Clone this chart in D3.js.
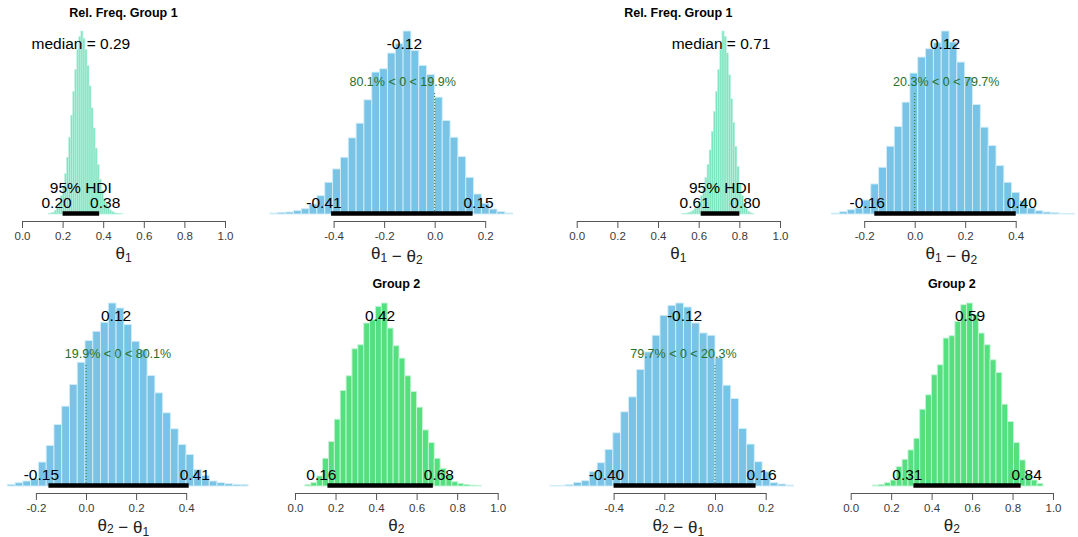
<!DOCTYPE html>
<html>
<head>
<meta charset="utf-8">
<script src="https://cdn.jsdelivr.net/npm/d3@7"></script>
<style>
body { margin: 0; background: #fff; }
text { font-family: "Liberation Sans", Arial, sans-serif; }
</style>
</head>
<body>
<svg id="chart" width="1078" height="537"></svg>
<script>
// ---- data (panels in reading order: top row left->right, then bottom row) ----
const panelTitles = ["Rel. Freq. Group 1", "", "Rel. Freq. Group 1", "", "", "Group 2", "", "Group 2"];
const centerPrefix = ["median = ", "", "median = ", "", "", "", "", ""];
const centerValues = [0.29, -0.12, 0.71, 0.12, 0.12, 0.42, -0.12, 0.59];
const hdiLow = [0.20, -0.41, 0.61, -0.16, -0.15, 0.16, -0.40, 0.31];
const hdiHigh = [0.38, 0.15, 0.80, 0.40, 0.41, 0.68, 0.16, 0.84];
const hdiCaption = ["95% HDI", "", "95% HDI", "", "", "", "", ""];
const pctBelowZero = [null, 80.1, null, 20.3, 19.9, null, 79.7, null];
const pctAboveZero = [null, 19.9, null, 79.7, 80.1, null, 20.3, null];

const ticksUnit = [0, 0.2, 0.4, 0.6, 0.8, 1.0];
const ticksDiffA = [-0.4, -0.2, 0.0, 0.2];
const ticksDiffB = [-0.2, 0.0, 0.2, 0.4];
const xTicks = [ticksUnit, ticksDiffA, ticksUnit, ticksDiffB, ticksDiffB, ticksUnit, ticksDiffA, ticksUnit];

// axis titles as [symbol, subscript] pieces
const axisTitles = [
  [["θ", "1"]],
  [["θ", "1"], [" − θ", "2"]],
  [["θ", "1"]],
  [["θ", "1"], [" − θ", "2"]],
  [["θ", "2"], [" − θ", "1"]],
  [["θ", "2"]],
  [["θ", "2"], [" − θ", "1"]],
  [["θ", "2"]]
];

// histogram bins: first break and bin width, then relative frequencies
const binStart = [0.13, -0.652, 0.515, -0.329, -0.314, 0.049, -0.651, 0.109];
const binWidth = [0.01, 0.031, 0.0105, 0.031, 0.031, 0.029, 0.031, 0.029];

const freq1 = [0.4, 0.6, 1, 2, 3.5, 6, 10, 15, 22, 31, 42, 54, 67, 79, 90, 97, 100, 96, 90, 81, 70, 58, 47, 36, 27, 19, 13, 8.5, 5.5, 3.5, 2.2, 1.3, 0.8, 0.5, 0.3, 0.2, 0.1];
const freq2 = [3, 5, 6, 10, 16, 30, 55, 95, 135, 170, 228, 272, 342, 425, 435, 482, 510, 548, 490, 445, 418, 350, 280, 230, 172, 110, 60, 32, 15, 7, 3];
const freq3 = [0.2, 0.3, 0.5, 0.8, 1.2, 2, 3, 4.5, 7, 10, 14, 20, 27, 35, 45, 56, 67, 79, 90, 100, 97, 88, 76, 63, 50, 37, 26, 17, 10, 6, 3, 1.5, 0.7, 0.3];
const freq4 = [3, 7, 13, 18, 42, 90, 140, 203, 262, 335, 422, 470, 495, 513, 548, 515, 455, 410, 328, 260, 205, 145, 95, 65, 40, 18, 10, 6, 4, 2, 2];
const freq5 = [5, 10, 15, 22, 72, 122, 185, 240, 305, 372, 437, 465, 492, 550, 535, 485, 435, 410, 332, 280, 220, 172, 125, 95, 50, 32, 15, 10, 7, 5, 4];
const freq6 = [4, 10, 30, 83, 133, 200, 286, 330, 411, 423, 488, 498, 538, 548, 473, 420, 383, 330, 283, 236, 168, 130, 83, 53, 33, 13, 8, 5, 3, 2];
const freq7 = [2, 2, 4, 11, 16, 43, 70, 110, 160, 223, 268, 350, 403, 453, 513, 543, 550, 538, 490, 460, 453, 386, 303, 263, 173, 126, 73, 43, 10, 6, 3];
const freq8 = [3, 5, 10, 18, 58, 80, 108, 143, 230, 273, 333, 363, 443, 450, 493, 543, 548, 513, 458, 423, 378, 340, 245, 193, 130, 78, 38, 18, 8];
const freqs = [freq1, freq2, freq3, freq4, freq5, freq6, freq7, freq8];

// ---- layout ----
const green = "#55e07f";
const mint = "#7fe5c0";
const blue = "#79c4e6";
const fills = [mint, blue, mint, blue, blue, green, blue, green];
const borders = ["#b9f0e0", "#d2eef8", "#b9f0e0", "#d2eef8", "#d2eef8", "#c4f3d6", "#d2eef8", "#c4f3d6"];
// pixel positions of the first and last tick of each panel's axis
const tickPixels = [[22, 225], [333.6, 485.2], [576.7, 780], [864.2, 1015.7],
                    [35.9, 186.2], [295, 497.7], [613.6, 765.7], [850.7, 1053]];
// centre of each plot region in data units (titles and axis titles sit there)
const plotCenter = [0.5, -0.15, 0.5, 0.145, 0.149, 0.5, -0.145, 0.5];
const rows = [
  { base: 214, peak: 31, axisY: 221, titleY: 17, labelY: 259 },
  { base: 486, peak: 303, axisY: 493, titleY: 288, labelY: 530.5 }
];

const svg = d3.select("#chart");

// place text so that the point `frac` of its width sits on px
function placeAdj(sel, px, frac) {
  const w = sel.node().getComputedTextLength();
  sel.attr("x", px - frac * w);
}

freqs.forEach((counts, i) => {
  const row = rows[i < 4 ? 0 : 1];
  const ticks = xTicks[i];
  const x = d3.scaleLinear()
    .domain([ticks[0], ticks[ticks.length - 1]])
    .range(tickPixels[i]);
  const y = d3.scaleLinear()
    .domain([0, d3.max(counts)])
    .range([row.base, row.peak]);
  const maxC = d3.max(counts);

  const bins = counts.map((c, k) => ({
    x0: binStart[i] + k * binWidth[i],
    x1: binStart[i] + (k + 1) * binWidth[i],
    c: c
  }));

  const g = svg.append("g");

  // histogram
  g.selectAll("rect")
    .data(bins)
    .join("rect")
    .attr("x", d => x(d.x0))
    .attr("width", d => x(d.x1) - x(d.x0))
    .attr("y", d => y(d.c))
    .attr("height", d => row.base - y(d.c))
    .attr("fill", fills[i])
    .attr("stroke", borders[i])
    .attr("stroke-width", binWidth[i] < 0.02 ? 0.6 : 0.9);

  // axis
  const axis = d3.axisBottom(x)
    .tickValues(ticks)
    .tickFormat(d => d.toFixed(1))
    .tickSize(7)
    .tickSizeOuter(0)
    .tickPadding(4);
  const ag = g.append("g")
    .attr("transform", `translate(0,${row.axisY})`)
    .call(axis);
  ag.select(".domain").attr("stroke", "#555");
  ag.selectAll(".tick line").attr("stroke", "#555");
  ag.selectAll(".tick text")
    .attr("fill", "#3a3a3a")
    .style("font-size", "11.5px")
    .style("font-family", "'Liberation Sans', Arial, sans-serif");

  // axis title with subscripts
  const lt = g.append("text")
    .attr("x", x(plotCenter[i]))
    .attr("y", row.labelY)
    .attr("text-anchor", "middle")
    .attr("fill", "#222")
    .style("font-size", "17px");
  axisTitles[i].forEach(part => {
    lt.append("tspan").text(part[0]);
    lt.append("tspan").text(part[1]).attr("dy", 2.5).style("font-size", "12px");
    lt.append("tspan").text("").attr("dy", -2.5);
  });

  // panel title
  if (panelTitles[i]) {
    g.append("text")
      .attr("x", x(plotCenter[i]))
      .attr("y", row.titleY)
      .attr("text-anchor", "middle")
      .style("font-size", "12.5px")
      .style("font-weight", "bold")
      .text(panelTitles[i]);
  }

  // comparison value at zero
  if (pctBelowZero[i] !== null) {
    g.append("line")
      .attr("x1", x(0)).attr("x2", x(0))
      .attr("y1", y(0)).attr("y2", y(0.672 * maxC))
      .attr("stroke", "#2a6e2a")
      .attr("stroke-width", 1)
      .attr("stroke-dasharray", "1,2");
    const ct = g.append("text")
      .attr("y", y(0.7 * maxC))
      .attr("fill", "#2a6e2a")
      .style("font-size", "12.5px")
      .text(`${pctBelowZero[i].toFixed(1)}% < 0 < ${pctAboveZero[i].toFixed(1)}%`);
    placeAdj(ct, x(0), pctBelowZero[i] / 100);
  }

  // central tendency
  g.append("text")
    .attr("x", x(centerValues[i]))
    .attr("y", y(0.9 * maxC))
    .attr("text-anchor", "middle")
    .style("font-size", "15.5px")
    .text(centerPrefix[i] + centerValues[i].toFixed(2));

  // HDI bar and labels
  g.append("line")
    .attr("x1", x(hdiLow[i])).attr("x2", x(hdiHigh[i]))
    .attr("y1", row.base - 0.5).attr("y2", row.base - 0.5)
    .attr("stroke", "#000")
    .attr("stroke-width", 4.5);

  const lo = g.append("text")
    .attr("y", row.base - 6)
    .style("font-size", "15.5px")
    .text(hdiLow[i].toFixed(2));
  placeAdj(lo, x(hdiLow[i]), 0.7);
  const hi = g.append("text")
    .attr("y", row.base - 6)
    .style("font-size", "15.5px")
    .text(hdiHigh[i].toFixed(2));
  placeAdj(hi, x(hdiHigh[i]), 0.3);

  if (hdiCaption[i]) {
    g.append("text")
      .attr("x", x((hdiLow[i] + hdiHigh[i]) / 2))
      .attr("y", row.base - 21)
      .attr("text-anchor", "middle")
      .style("font-size", "15.5px")
      .text(hdiCaption[i]);
  }
});
</script>
</body>
</html>
